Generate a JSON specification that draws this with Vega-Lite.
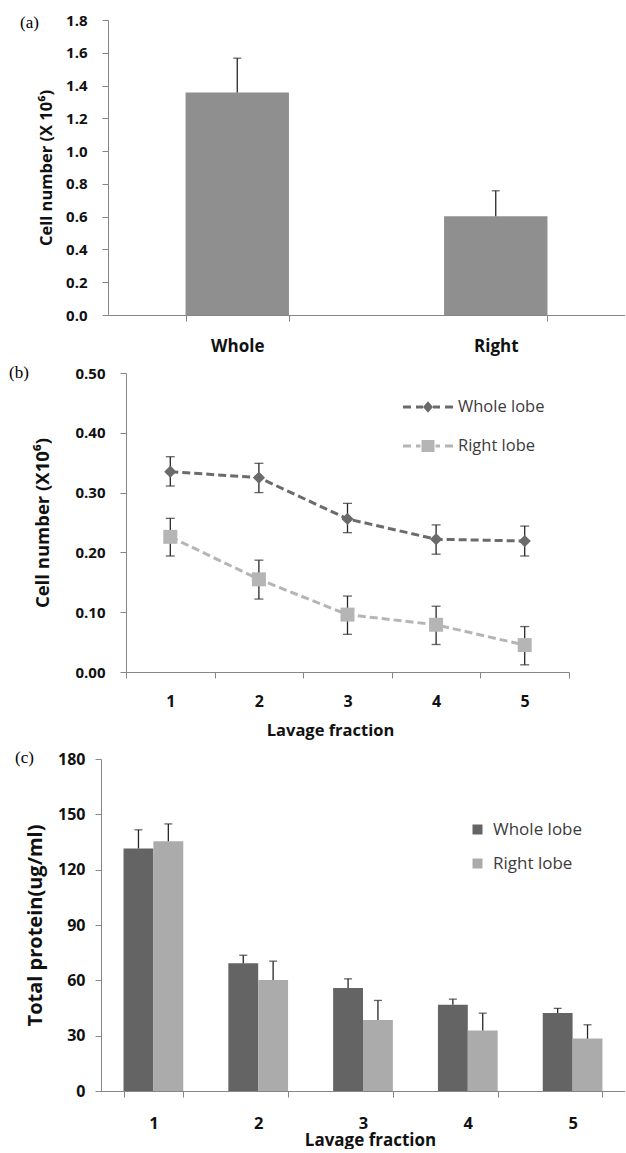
{
  "$schema": "https://vega.github.io/schema/vega-lite/v6.json",
  "padding": {"left": 9, "top": 13, "right": 0, "bottom": 0},
  "background": "white",
  "config": {
    "view": {"stroke": null},
    "font": "Open Sans",
    "axis": {"domainColor": "#868686", "tickColor": "#868686", "tickSize": 6, "labelFont": "Open Sans", "labelFontWeight": "bold", "labelColor": "#111111", "titleFont": "Open Sans", "titleFontWeight": "bold", "titleColor": "#111111", "grid": false, "labelOverlap": false},
    "axisY": {"labelOverlap": false},
    "legend": {"labelFont": "Open Sans", "labelColor": "#3c3c3c"}
  },
  "datasets": {
    "a": [
      {"lobe": "Whole", "value": 1.358, "upper": 1.567},
      {"lobe": "Right", "value": 0.602, "upper": 0.758}
    ],
    "b": [
      {"fraction": "1", "series": "Whole lobe", "value": 0.335, "lower": 0.311, "upper": 0.360},
      {"fraction": "2", "series": "Whole lobe", "value": 0.325, "lower": 0.300, "upper": 0.349},
      {"fraction": "3", "series": "Whole lobe", "value": 0.256, "lower": 0.233, "upper": 0.282},
      {"fraction": "4", "series": "Whole lobe", "value": 0.222, "lower": 0.197, "upper": 0.246},
      {"fraction": "5", "series": "Whole lobe", "value": 0.219, "lower": 0.194, "upper": 0.244},
      {"fraction": "1", "series": "Right lobe", "value": 0.226, "lower": 0.194, "upper": 0.257},
      {"fraction": "2", "series": "Right lobe", "value": 0.155, "lower": 0.122, "upper": 0.187},
      {"fraction": "3", "series": "Right lobe", "value": 0.096, "lower": 0.063, "upper": 0.127},
      {"fraction": "4", "series": "Right lobe", "value": 0.079, "lower": 0.046, "upper": 0.110},
      {"fraction": "5", "series": "Right lobe", "value": 0.045, "lower": 0.012, "upper": 0.076}
    ],
    "c": [
      {"fraction": "1", "series": "Whole lobe", "value": 131.5, "upper": 141.6},
      {"fraction": "2", "series": "Whole lobe", "value": 69.2, "upper": 73.6},
      {"fraction": "3", "series": "Whole lobe", "value": 55.8, "upper": 60.8},
      {"fraction": "4", "series": "Whole lobe", "value": 46.8, "upper": 49.8},
      {"fraction": "5", "series": "Whole lobe", "value": 42.3, "upper": 44.8},
      {"fraction": "1", "series": "Right lobe", "value": 135.4, "upper": 144.8},
      {"fraction": "2", "series": "Right lobe", "value": 60.2, "upper": 70.4},
      {"fraction": "3", "series": "Right lobe", "value": 38.5, "upper": 49.1},
      {"fraction": "4", "series": "Right lobe", "value": 32.8, "upper": 42.2},
      {"fraction": "5", "series": "Right lobe", "value": 28.4, "upper": 35.9}
    ]
  },
  "spacing": 10,
  "resolve": {"scale": {"color": "independent"}},
  "vconcat": [
    {
      "width": 524,
      "height": 295,
      "data": {"name": "a"},
      "title": {"text": "(a)", "anchor": "start", "frame": "group", "font": "Liberation Serif", "fontSize": 17, "fontWeight": "normal", "color": "#000000", "dx": -81, "dy": 27, "offset": 0, "baseline": "middle"},
      "encoding": {
        "x": {"field": "lobe", "type": "nominal", "sort": ["Whole", "Right"], "scale": {"range": [7, 524], "paddingInner": 0.6, "paddingOuter": 0.3}, "axis": {"title": null, "labelAngle": 0, "tickBand": "extent", "labelFontSize": 17, "labelPadding": 17}}
      },
      "layer": [
        {
          "mark": {"type": "bar", "color": "#8f8f8f"},
          "encoding": {
            "y": {"field": "value", "type": "quantitative", "scale": {"domain": [0, 1.8]}, "axis": {"offset": -7, "values": [0, 0.2, 0.4, 0.6, 0.8, 1.0, 1.2, 1.4, 1.6, 1.8], "labelOverlap": false, "format": ".1f", "title": "Cell number (X 10⁶)", "labelFontSize": 15, "labelPadding": 15, "titleFontSize": 16.5, "titlePadding": 11}}
          }
        },
        {
          "mark": {"type": "rule", "color": "#262626", "strokeWidth": 1.3},
          "encoding": {
            "y": {"field": "value", "type": "quantitative", "axis": {"offset": -7, "values": [0, 0.2, 0.4, 0.6, 0.8, 1.0, 1.2, 1.4, 1.6, 1.8], "labelOverlap": false, "format": ".1f", "title": "Cell number (X 10⁶)", "labelFontSize": 15, "labelPadding": 15, "titleFontSize": 16.5, "titlePadding": 11}},
            "y2": {"field": "upper"}
          }
        },
        {
          "mark": {"type": "tick", "color": "#262626", "thickness": 1.3, "size": 8},
          "encoding": {
            "y": {"field": "upper", "type": "quantitative", "axis": {"offset": -7, "values": [0, 0.2, 0.4, 0.6, 0.8, 1.0, 1.2, 1.4, 1.6, 1.8], "labelOverlap": false, "format": ".1f", "title": "Cell number (X 10⁶)", "labelFontSize": 15, "labelPadding": 15, "titleFontSize": 16.5, "titlePadding": 11}}
          }
        }
      ]
    },
    {
      "width": 468,
      "height": 299,
      "data": {"name": "b"},
      "title": {"text": "(b)", "anchor": "start", "frame": "group", "font": "Liberation Serif", "fontSize": 17, "fontWeight": "normal", "color": "#000000", "dx": -92, "dy": 24, "offset": 0, "baseline": "middle"},
      "encoding": {
        "x": {"field": "fraction", "type": "ordinal", "scale": {"type": "band", "range": [25, 468], "paddingInner": 0, "paddingOuter": 0}, "axis": {"title": "Lavage fraction", "titleX": 229, "labelAngle": 0, "tickBand": "extent", "labelFontSize": 16, "labelPadding": 15, "titleFontSize": 16.5, "titlePadding": 13.5}}
      },
      "layer": [
        {
          "mark": {"type": "errorbar", "color": "#262626", "ticks": {"size": 9}, "rule": {"strokeWidth": 1.3}, "thickness": 1.3},
          "encoding": {
            "y": {"field": "lower", "type": "quantitative", "scale": {"domain": [0, 0.5]}, "axis": {"offset": -25, "values": [0, 0.1, 0.2, 0.3, 0.4, 0.5], "format": ".2f", "title": "Cell number (X10⁶)", "labelFontSize": 15, "labelPadding": 15, "titleFontSize": 18.5, "titlePadding": 22}},
            "y2": {"field": "upper"}
          }
        },
        {
          "mark": {"type": "line", "strokeDash": [8, 4], "strokeWidth": 3},
          "encoding": {
            "y": {"field": "value", "type": "quantitative"},
            "color": {"field": "series", "type": "nominal", "scale": {"domain": ["Whole lobe", "Right lobe"], "range": ["#6b6b6b", "#b5b5b5"]},
              "legend": {"orient": "none", "legendX": 302, "legendY": 9, "title": null, "labelFontSize": 16.5, "labelOffset": 5, "rowPadding": 5, "symbolSize": 2500,
                "encode": {"symbols": {"update": {
                  "shape": {"signal": "datum.value === 'Whole lobe' ? 'M-1,-0.06H-0.68V0.06H-1Z M-0.48,-0.06H-0.2V0.06H-0.48Z M0.2,-0.06H0.48V0.06H0.2Z M0.68,-0.06H1V0.06H0.68Z M0,-0.23L0.2,0L0,0.23L-0.2,0Z' : 'M-1,-0.06H-0.68V0.06H-1Z M-0.48,-0.06H-0.3V0.06H-0.48Z M0.3,-0.06H0.48V0.06H0.3Z M0.68,-0.06H1V0.06H0.68Z M-0.26,-0.24H0.26V0.24H-0.26Z'"},
                  "strokeWidth": {"value": 0},
                  "strokeDash": {"value": [1, 0]},
                  "size": {"value": 2500},
                  "opacity": {"value": 1}
                }}}
              }
            }
          }
        },
        {
          "transform": [{"filter": "datum.series === 'Whole lobe'"}],
          "mark": {"type": "point", "shape": "diamond", "size": 150, "filled": true, "opacity": 1},
          "encoding": {
            "y": {"field": "value", "type": "quantitative"},
            "color": {"field": "series", "type": "nominal"}
          }
        },
        {
          "transform": [{"filter": "datum.series === 'Right lobe'"}],
          "mark": {"type": "point", "shape": "square", "size": 196, "filled": true, "opacity": 1},
          "encoding": {
            "y": {"field": "value", "type": "quantitative"},
            "color": {"field": "series", "type": "nominal"}
          }
        }
      ]
    },
    {
      "width": 524,
      "height": 332,
      "data": {"name": "c"},
      "title": {"text": "(c)", "anchor": "start", "frame": "group", "font": "Liberation Serif", "fontSize": 17, "fontWeight": "normal", "color": "#000000", "dx": -86, "dy": 24, "offset": 0, "baseline": "middle"},
      "encoding": {
        "x": {"field": "fraction", "type": "ordinal", "scale": {"paddingInner": 0.43, "paddingOuter": 0.215}, "axis": {"title": "Lavage fraction", "titleX": 269, "labelAngle": 0, "tickBand": "extent", "labelFontSize": 16.5, "labelPadding": 18, "titleFontSize": 17, "titlePadding": 1}},
        "xOffset": {"field": "series", "type": "nominal", "scale": {"domain": ["Whole lobe", "Right lobe"]}}
      },
      "layer": [
        {
          "mark": {"type": "bar"},
          "encoding": {
            "y": {"field": "value", "type": "quantitative", "scale": {"domain": [0, 180]}, "axis": {"values": [0, 30, 60, 90, 120, 150, 180], "title": "Total protein(ug/ml)", "labelFontSize": 16, "labelPadding": 10, "titleFontSize": 20, "titlePadding": 12}},
            "color": {"field": "series", "type": "nominal", "scale": {"domain": ["Whole lobe", "Right lobe"], "range": ["#646464", "#ababab"]},
              "legend": {"orient": "none", "legendX": 368, "legendY": 62, "title": null, "symbolType": "square", "symbolSize": 100, "labelFontSize": 17, "labelOffset": 7, "rowPadding": 16, "symbolStrokeWidth": 0}}
          }
        },
        {
          "mark": {"type": "rule", "color": "#262626", "strokeWidth": 1.3},
          "encoding": {"y": {"field": "value", "type": "quantitative"}, "y2": {"field": "upper"}}
        },
        {
          "mark": {"type": "tick", "color": "#262626", "thickness": 1.3, "size": 8},
          "encoding": {"y": {"field": "upper", "type": "quantitative"}}
        }
      ]
    }
  ]
}
